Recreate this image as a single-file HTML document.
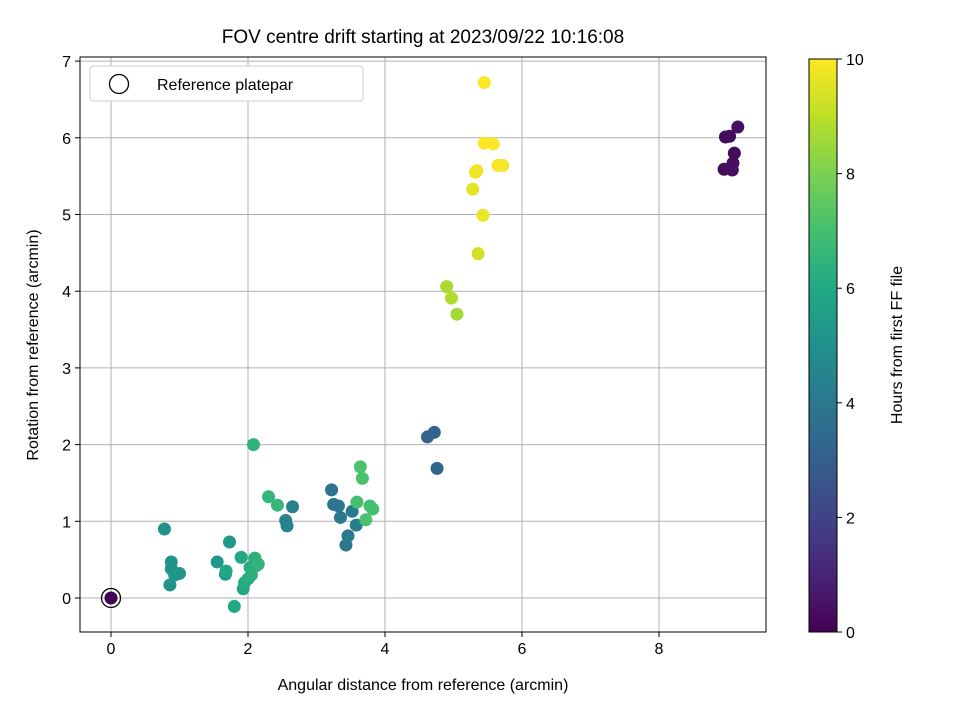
<!DOCTYPE html>
<html><head><meta charset="utf-8"><style>body{margin:0;background:#fff}svg{font-family:"Liberation Sans","DejaVu Sans",sans-serif}</style></head>
<body>
<svg id="chart" width="960" height="720" xmlns="http://www.w3.org/2000/svg">
<rect width="960" height="720" fill="#fff"/>
<g id="grid"></g><g id="pts"></g><g id="axes"></g>
<text x="423" y="43" font-size="19" text-anchor="middle">FOV centre drift starting at 2023/09/22 10:16:08</text>
<text x="423" y="690" font-size="16" text-anchor="middle">Angular distance from reference (arcmin)</text>
<text transform="translate(38,345) rotate(-90)" font-size="16" text-anchor="middle">Rotation from reference (arcmin)</text>
<text transform="translate(902,345) rotate(-90)" font-size="16" text-anchor="middle">Hours from first FF file</text>
<g>
<rect x="90" y="66" width="273" height="35" rx="3" fill="#fff" stroke="#ccc"/>
<circle cx="119" cy="84" r="9.5" fill="none" stroke="#000" stroke-width="1.3"/>
<text x="157" y="90" font-size="16">Reference platepar</text>
</g>
<defs><linearGradient id="vir" x1="0" y1="1" x2="0" y2="0">
<stop offset="0" stop-color="#440154"/><stop offset="0.1" stop-color="#482475"/><stop offset="0.2" stop-color="#414487"/><stop offset="0.3" stop-color="#355f8d"/><stop offset="0.4" stop-color="#2a788e"/><stop offset="0.5" stop-color="#21918c"/><stop offset="0.6" stop-color="#22a884"/><stop offset="0.7" stop-color="#44bf70"/><stop offset="0.8" stop-color="#7ad151"/><stop offset="0.9" stop-color="#bddf26"/><stop offset="1" stop-color="#fde725"/></linearGradient></defs>
<rect x="809" y="59" width="28" height="573" fill="url(#vir)" stroke="#000" stroke-width="1"/>
<g id="cbticks"></g>
</svg>
<script>
const xVals=[8.95,8.97,9.03,9.07,9.08,9.1,9.15,4.62,4.72,4.76,3.22,3.25,3.32,3.35,3.43,3.46,3.52,3.58,2.55,2.57,2.65,0.78,0.88,0.88,0.86,0.93,1.0,1.55,1.67,1.73,1.68,1.8,1.9,1.93,1.95,2.0,2.03,2.05,2.08,2.1,2.12,2.15,2.3,2.43,3.59,3.64,3.67,3.72,3.78,3.82,4.9,4.97,5.05,5.36,5.28,5.32,5.34,5.43,5.45,5.45,5.58,5.65,5.72,0];
const yVals=[5.59,6.01,6.02,5.58,5.67,5.8,6.14,2.1,2.16,1.69,1.41,1.22,1.2,1.05,0.69,0.81,1.13,0.95,1.01,0.94,1.19,0.9,0.47,0.38,0.17,0.3,0.32,0.47,0.31,0.73,0.35,-0.11,0.53,0.12,0.2,0.25,0.4,0.3,2.0,0.52,0.42,0.44,1.32,1.21,1.25,1.71,1.56,1.02,1.2,1.16,4.06,3.91,3.7,4.49,5.33,5.55,5.57,4.99,5.93,6.72,5.92,5.64,5.64,0];
const hours=[0.3,0.3,0.3,0.4,0.4,0.3,0.4,3.2,3.2,3.3,3.8,3.9,3.9,4.0,4.0,4.1,4.1,4.2,4.4,4.4,4.3,5.0,5.1,5.1,5.1,5.2,5.2,5.3,5.4,5.3,5.9,6.0,6.0,6.0,6.1,6.2,6.2,6.3,6.4,6.3,6.4,6.5,6.5,6.6,7.0,7.1,7.1,7.1,7.0,7.0,8.7,8.8,8.6,9.3,9.6,9.8,9.8,9.7,10,10,10,9.9,9.9,0];
const xTicks=[0,2,4,6,8];
const yTicks=[0,1,2,3,4,5,6,7];
const cbTicks=[0,2,4,6,8,10];
const L=80,R=766,T=57,B=632;
const X=v=>111+v*68.5, Y=v=>598-v*76.7, CB=v=>632-v*57.3;
const stops=[[68,1,84],[72,36,117],[65,68,135],[53,95,141],[42,120,142],[33,145,140],[34,168,132],[68,191,112],[122,209,81],[189,223,38],[253,231,37]];
function vir(t){t=Math.max(0,Math.min(1,t))*10;const i=Math.min(9,Math.floor(t)),f=t-i;const a=stops[i],b=stops[i+1];return`rgb(${a.map((c,k)=>Math.round(c+(b[k]-c)*f)).join(',')})`;}
const NS="http://www.w3.org/2000/svg";
function mk(tag,at,p){const e=document.createElementNS(NS,tag);for(const k in at)e.setAttribute(k,at[k]);p.appendChild(e);return e;}
const grid=document.getElementById('grid'),axes=document.getElementById('axes'),pts=document.getElementById('pts'),cbt=document.getElementById('cbticks');
xTicks.forEach(v=>{const x=X(v);
const g=mk('line',{x1:x,x2:x,y1:T,y2:B,stroke:'#b0b0b0','stroke-width':1},grid);


mk('line',{x1:x,x2:x,y1:B,y2:B+5,stroke:'#000'},axes);
const t=mk('text',{x:x,y:B+22,'font-size':16,'text-anchor':'middle'},axes);t.textContent=v;

});
yTicks.forEach(v=>{const y=Y(v);
const g=mk('line',{x1:L,x2:R,y1:y,y2:y,stroke:'#b0b0b0','stroke-width':1},grid);


mk('line',{x1:L-5,x2:L,y1:y,y2:y,stroke:'#000'},axes);
const t=mk('text',{x:L-9,y:y+6,'font-size':16,'text-anchor':'end'},axes);t.textContent=v;

});
const fr=mk('rect',{x:L,y:T,width:R-L,height:B-T,fill:'none',stroke:'#000','stroke-width':1},axes);


xVals.forEach((v,i)=>{const c=mk('circle',{cx:X(v),cy:Y(yVals[i]),r:6.5,fill:vir(hours[i]/10)},pts);

});
const ref=mk('circle',{cx:X(0),cy:Y(0),r:9.5,fill:'none',stroke:'#000','stroke-width':1.3},pts);


cbTicks.forEach(v=>{const y=CB(v);mk('line',{x1:837,x2:842,y1:y,y2:y,stroke:'#000'},cbt);
const t=mk('text',{x:846,y:y+6,'font-size':16},cbt);t.textContent=v;

});
</script>
</body></html>
